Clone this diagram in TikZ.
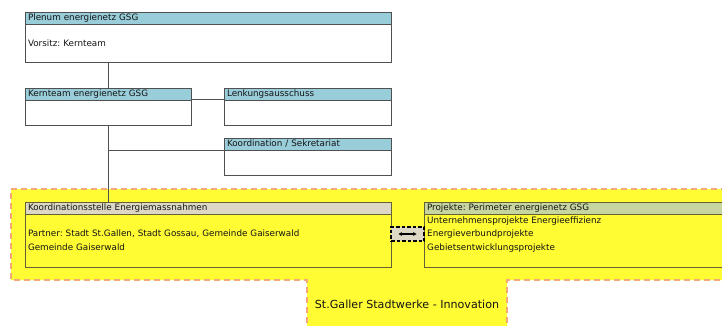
\documentclass[tikz,border=0pt]{standalone}
\usepackage{fontspec}
\setmainfont{DejaVu Sans}
\frenchspacing
\usetikzlibrary{arrows.meta}
\definecolor{hdrblue}{RGB}{153,205,217}
\definecolor{yfill}{RGB}{255,252,52}
\definecolor{odash}{RGB}{246,168,122}
\definecolor{beige}{RGB}{221,216,198}
\definecolor{hgreen}{RGB}{199,214,160}
\definecolor{topline}{RGB}{80,80,80}
\definecolor{oline}{RGB}{100,98,52}
\definecolor{txt}{RGB}{20,20,20}
\begin{document}
\begin{tikzpicture}[x=1pt,y=-1pt,
  hdr/.style={draw=topline, fill=hdrblue, anchor=north west, inner xsep=3pt, inner ysep=0pt,
    outer sep=0pt, minimum height=12pt, text height=6.6pt, text depth=1.8pt, align=left,
    font=\fontsize{8.8}{10}\selectfont, text=txt, line width=0.8pt},
  bodybox/.style={draw=topline, fill=white, anchor=north west, inner xsep=3pt, inner ysep=0pt,
    outer sep=0pt, align=left, font=\fontsize{8.8}{13.8}\selectfont, text=txt, line width=0.8pt},
  conn/.style={draw=topline, line width=0.8pt},
  region/.style={fill=yfill, draw=odash, line width=1.4pt, dash pattern=on 6pt off 4pt},
]
\useasboundingbox (0,0) rectangle (722,325);
\clip (0,0) rectangle (722,325);

% yellow region with bottom tab
\path[region] (11,189) -- (745,189) -- (745,280) -- (507,280) -- (507,345) -- (307,345) -- (307,280) -- (11,280) -- cycle;
\node[font=\fontsize{11.1}{12}\selectfont, text=txt, inner sep=0] (sgsw) at (407,304) {St.Galler Stadtwerke - Innovation};

% Plenum
\node[hdr, text width=360pt] (plh) at (25,12) {Plenum energienetz GSG};
\node[bodybox, text width=360pt, minimum height=38pt] (plb) at (plh.south west) {Vorsitz: Kernteam};

% Kernteam
\node[hdr, text width=160pt] (kh) at (25,88) {Kernteam energienetz GSG};
\node[bodybox, text width=160pt, minimum height=25pt] (kb) at (kh.south west) {};

% Lenkungsausschuss
\node[hdr, text width=161pt] (lh) at (224,88) {Lenkungsausschuss};
\node[bodybox, text width=161pt, minimum height=25pt] (lb) at (lh.south west) {};

% Koordination / Sekretariat
\node[hdr, text width=161pt] (koh) at (224,138) {Koordination / Sekretariat};
\node[bodybox, text width=161pt, minimum height=25pt] (kob) at (koh.south west) {};

% Koordinationsstelle
\node[hdr, text width=360pt, fill=beige, draw=oline] (ksh) at (25,202) {Koordinationsstelle Energiemassnahmen};
\node[bodybox, text width=360pt, minimum height=53pt, fill=yfill, draw=oline] (ksb) at (ksh.south west)
  {Partner: Stadt St.Gallen, Stadt Gossau, Gemeinde Gaiserwald\\Gemeinde Gaiserwald};

% Projekte
\node[hdr, text width=314pt, fill=hgreen, draw=oline] (pjh) at (424,202) {Projekte: Perimeter energienetz GSG};
\node[bodybox, text width=314pt, minimum height=53pt, fill=yfill, draw=oline] (pjb) at (pjh.south west) {};
\node[anchor=north west, inner sep=0pt, align=left, font=\fontsize{8.8}{13.5}\selectfont, text=txt]
  (pjt) at ([shift={(3,2.2)}]pjb.north west)
  {Unternehmensprojekte Energieeffizienz\\Energieverbundprojekte\\Gebietsentwicklungsprojekte};

% connectors
\draw[conn] (kh.north) -- (kh.north |- plb.south);
\draw[conn] ([yshift=0.8pt]kh.south east) -- ([yshift=0.8pt]lh.south west);
\draw[conn] (kb.south) -- (kb.south |- ksh.north);
\draw[conn] (koh.south west) -- (koh.south west -| kb.south);

% link between Koordinationsstelle and Projekte
\node[draw=black, fill=beige, line width=1.2pt, dash pattern=on 3.5pt off 2pt, minimum width=33pt,
  minimum height=14pt, inner sep=0pt, outer sep=0pt] (lnk) at (407.5,234) {};
\path (lnk.center) ++(-9pt,0) coordinate (la) (lnk.center) ++(9pt,0) coordinate (lz);
\draw[line width=1.2pt, {Stealth[length=3.5pt,width=4pt]}-{Stealth[length=3.5pt,width=4pt]}] (la) -- (lz);
\end{tikzpicture}
\end{document}
